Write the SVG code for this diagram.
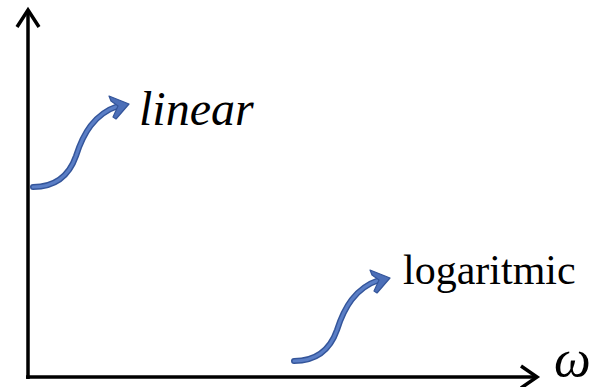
<svg xmlns="http://www.w3.org/2000/svg" width="598" height="387" viewBox="0 0 598 387">
<defs>
<style>
.axis{stroke:#000;stroke-width:3.5;fill:none;stroke-linecap:butt}
.head{stroke:#000;stroke-width:3.5;fill:none;stroke-linejoin:miter}
.curveo{stroke:#34559a;stroke-width:6;fill:none;stroke-linecap:round}
.curvei{stroke:#5a7ec6;stroke-width:3;fill:none;stroke-linecap:round}
.ah{fill:#4c6fb8;stroke:#34559a;stroke-width:1.2;stroke-linejoin:round}
.lbl{font-family:'Liberation Serif','Times New Roman',serif;fill:#000}
</style>
<g id="curly">
<path class="curveo" d="M33,187 C55,187 69,176 76,156 C83,134 94,114 118,106"/>
<path class="curvei" d="M33,187 C55,187 69,176 76,156 C83,134 94,114 118,106"/>
<polygon class="ah" points="129,104 109,96 111,101 118,106 113,117 116,119"/>
</g>
</defs>
<g id="connectors">
<path class="axis" d="M28,379 V10"/>
<path class="head" d="M17,27 L28,10 L39,27"/>
<path class="axis" d="M26,377 H536"/>
<path class="head" d="M521,366 L537,377 L521,388"/>
<use href="#curly"/>
<use href="#curly" transform="translate(261,174)"/>
</g>
<g id="label-linear"><text class="lbl" x="139" y="125" font-size="48" font-style="italic">linear</text></g>
<g id="label-log"><text class="lbl" x="403" y="284" font-size="42">logaritmic</text></g>
<g id="label-omega"><text class="lbl" x="554" y="376" font-size="52" font-style="italic">ω</text></g>
</svg>
